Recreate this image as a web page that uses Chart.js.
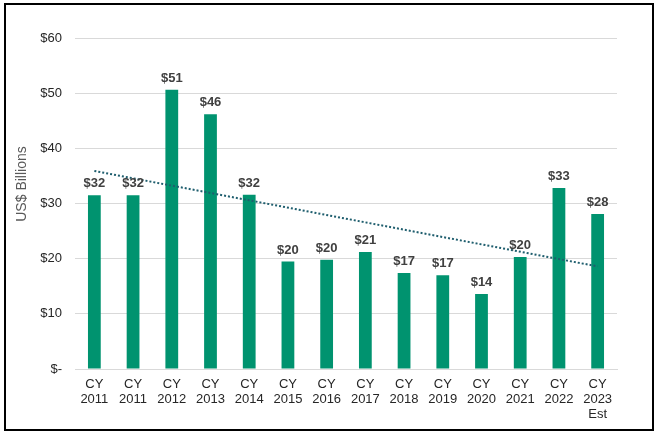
<!DOCTYPE html>
<html>
<head>
<meta charset="utf-8">
<script src="https://cdn.jsdelivr.net/npm/chart.js@4.4.1/dist/chart.umd.min.js"></script>
<style>
  body { margin: 0; background: #fff; }
  #wrap { position: relative; width: 656px; height: 435px; }
  #frame { position: absolute; left: 4px; top: 3px; width: 646px; height: 424px; border: 2px solid #000; box-sizing: content-box; pointer-events: none; }
  canvas { position: absolute; left: 0; top: 0; }
</style>
</head>
<body>
<div id="wrap">
  <canvas id="chart" width="656" height="435"></canvas>
  <div id="frame"></div>
</div>
<script>
// Datos del gráfico
const categories = [
    ['CY', '2011'], ['CY', '2011'], ['CY', '2012'], ['CY', '2013'], ['CY', '2014'],
    ['CY', '2015'], ['CY', '2016'], ['CY', '2017'], ['CY', '2018'], ['CY', '2019'],
    ['CY', '2020'], ['CY', '2021'], ['CY', '2022'], ['CY', '2023', 'Est']
];
const spendValues = [31.5, 31.5, 50.6, 46.2, 31.6, 19.5, 19.8, 21.2, 17.4, 17.0, 13.6, 20.3, 32.8, 28.1];
// Línea de tendencia: extremos
const trendValues = [35.9, null, null, null, null, null, null, null, null, null, null, null, null, 18.6];
const yTicks = [0, 10, 20, 30, 40, 50, 60];
const axisTitle = 'US$ Billions';

const barColor = '#00936F';
const textColor = '#262626';
const fontFamily = '"Liberation Sans", Arial, sans-serif';

// Etiquetas sobre las barras y título del eje Y
const barLabels = {
    id: 'barLabels',
    afterDatasetsDraw(chart) {
        const c = chart.ctx;
        const meta = chart.getDatasetMeta(1);
        c.save();
        c.font = 'bold 13px ' + fontFamily;
        c.fillStyle = '#404040';
        c.textAlign = 'center';
        c.textBaseline = 'bottom';
        meta.data.forEach((bar, i) => {
            c.fillText('$' + Math.round(spendValues[i]), bar.x, bar.y - 5);
        });
        c.restore();

        // Título del eje Y
        c.save();
        c.translate(22, 184);
        c.rotate(-Math.PI / 2);
        c.font = '14px ' + fontFamily;
        c.fillStyle = '#595959';
        c.textAlign = 'center';
        c.textBaseline = 'middle';
        c.fillText(axisTitle, 0, 0);
        c.restore();
    }
};

const ctx = document.getElementById('chart').getContext('2d');
const chart = new Chart(ctx, {
    type: 'bar',
    data: {
        labels: categories,
        datasets: [{
            type: 'line',
            data: trendValues,
            borderColor: '#1F5E6E',
            borderWidth: 2,
            borderDash: [2, 2],
            pointRadius: 0,
            spanGaps: true,
            fill: false,
            order: 0
        }, {
            data: spendValues,
            backgroundColor: barColor,
            categoryPercentage: 1,
            barPercentage: 0.33,
            order: 1
        }]
    },
    options: {
        responsive: false,
        animation: false,
        layout: { padding: { top: 38, right: 39, left: 0, bottom: 0 } },
        plugins: {
            legend: { display: false },
            tooltip: { enabled: false }
        },
        scales: {
            x: {
                grid: { display: false, drawTicks: false },
                border: { display: true, color: '#D9D9D9', width: 1 },
                ticks: {
                    color: textColor,
                    font: { family: fontFamily, size: 13, lineHeight: 1.15 },
                    padding: 8,
                    maxRotation: 0,
                    autoSkip: false
                },
                afterFit(scale) { scale.height = 66; }
            },
            y: {
                min: 0,
                max: 60,
                afterBuildTicks(scale) { scale.ticks = yTicks.map(v => ({ value: v })); },
                grid: { color: '#D9D9D9', drawTicks: false },
                border: { display: false },
                ticks: {
                    color: textColor,
                    font: { family: fontFamily, size: 13 },
                    padding: 13,
                    callback: v => v === 0 ? '$-' : '$' + v
                },
                afterFit(scale) { scale.width = 75; }
            }
        }
    },
    plugins: [barLabels]
});
</script>
</body>
</html>
